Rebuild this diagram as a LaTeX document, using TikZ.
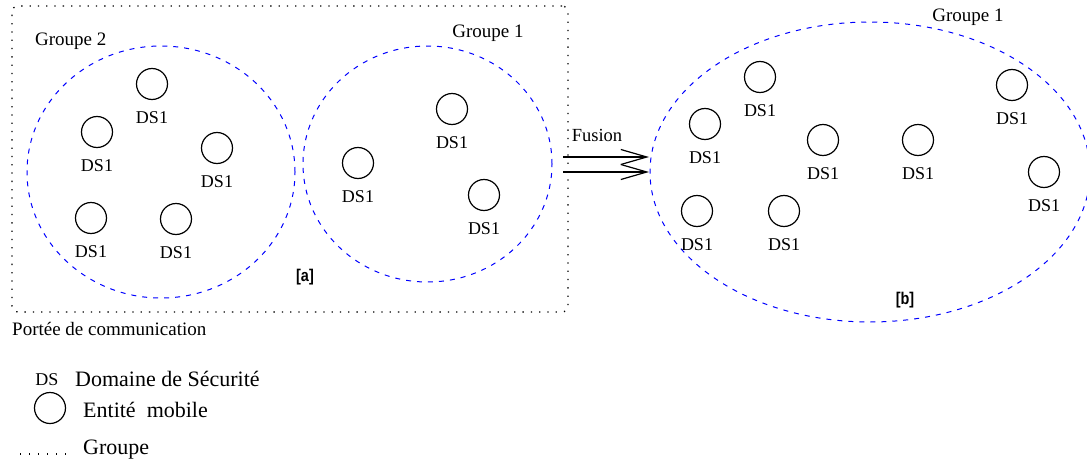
\documentclass[tikz,border=0pt]{standalone}
\usepackage{fontspec}
\setmainfont{Liberation Serif}
\newfontfamily\lblsans[FakeStretch=0.85]{Liberation Sans}
\usetikzlibrary{shapes.geometric,arrows.meta}
\begin{document}
\begin{tikzpicture}[x=1pt,y=-1pt,
 txt/.style={font=\fontsize{18}{20}\selectfont,inner sep=0pt},
 mid/.style={font=\fontsize{19}{21}\selectfont,inner sep=0pt},
 big/.style={font=\fontsize{22}{24}\selectfont,inner sep=0pt},
 tag/.style={font=\lblsans\bfseries\fontsize{17}{19}\selectfont,inner sep=0pt},
 mob/.style={circle,draw,line width=1.2pt,minimum size=31pt,inner sep=0pt,
   label={[txt,label distance=11pt]below:DS1}},
 grp/.style={ellipse,draw=blue,dash pattern=on 5pt off 6pt,line width=1pt,inner sep=0pt},
 fusarrow/.style={line width=1.2pt,-{Straight Barb[length=26pt,width=15pt,line width=1.2pt]}}]
\useasboundingbox (0,0) rectangle (1087,463);
% communication range
\node[draw,rounded corners=6pt,line width=1.3pt,dash pattern=on 1.3pt off 7pt,
  minimum width=556pt,minimum height=306pt,inner sep=0pt] (range) at (290,159) {};
% groups
\node[grp,minimum width=268pt,minimum height=252pt] (g2) at (161,172) {};
\node[grp,minimum width=249pt,minimum height=236pt] (g1) at (427.5,164) {};
\node[grp,minimum width=440pt,minimum height=300pt] (gb) at (870,172) {};
% labels
\node[mid,anchor=west] (lg2) at (35,41) {Groupe 2};
\node[mid] (lg1) at (488,33) {Groupe 1};
\node[mid] (lgb) at (968,17) {Groupe 1};
\node[tag] (la) at (305,277) {[a]};
\node[tag] (lb) at (905,300) {[b]};
\node[mid,anchor=west] (portee) at (12,329) {Portée de communication};
% mobiles group 2
\node[mob] (a1) at (152,84) {};
\node[mob] (a2) at (97,132) {};
\node[mob] (a3) at (217,148) {};
\node[mob] (a4) at (91,218) {};
\node[mob] (a5) at (176,219) {};
% mobiles group 1
\node[mob] (b1) at (452,109) {};
\node[mob] (b2) at (358,163) {};
\node[mob] (b3) at (484,195) {};
% mobiles merged
\node[mob] (c1) at (760,77) {};
\node[mob] (c2) at (705,124) {};
\node[mob] (c3) at (823,140) {};
\node[mob] (c4) at (918,140) {};
\node[mob] (c5) at (1012,85) {};
\node[mob] (c6) at (1044,172) {};
\node[mob] (c7) at (697,211) {};
\node[mob] (c8) at (784,211) {};
% fusion arrows
\coordinate (f1s) at (563,157);
\coordinate (f1e) at (649,157);
\coordinate (f2s) at (563,172);
\coordinate (f2e) at (649,172);
\draw[fusarrow] (f1s) -- (f1e);
\draw[fusarrow] (f2s) -- (f2e);
\node[font=\fontsize{18.5}{20}\selectfont,inner sep=0pt] (fusion) at (597,135) {Fusion};
% legend
\node[txt] (kds) at (47,380) {DS};
\node[big,anchor=west] (kdsl) at (75,379) {Domaine de Sécurité};
\node[circle,draw,line width=1.2pt,minimum size=31pt,inner sep=0pt] (kem) at (50,408) {};
\node[big,anchor=west] (keml) at (83,410) {Entité~~mobile};
\coordinate (kg1) at (20,454);
\coordinate (kg2) at (66,454);
\draw[line width=1.3pt,dash pattern=on 1.3pt off 7.7pt] (kg1) -- (kg2);
\node[big,anchor=west] (kgl) at (83,450) {Groupe};
\end{tikzpicture}
\end{document}
